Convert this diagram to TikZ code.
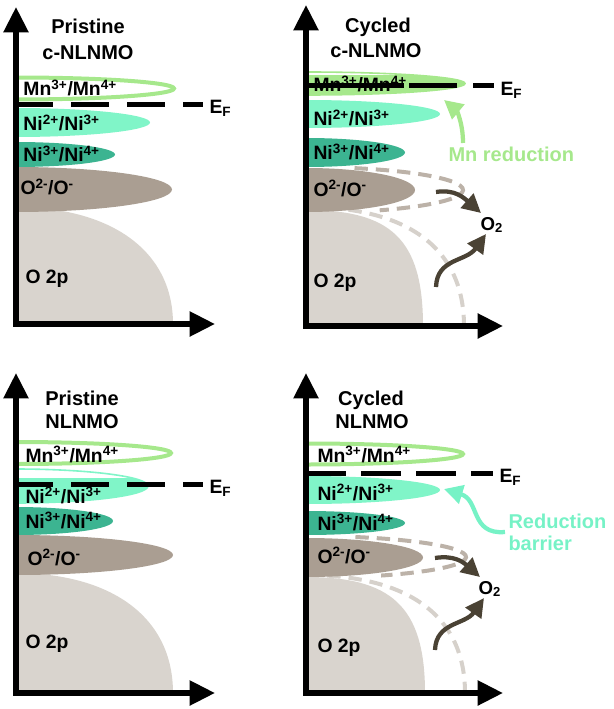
\documentclass[tikz,border=0pt]{standalone}
\usepackage{fontspec}
\setmainfont{Liberation Sans}
\usetikzlibrary{arrows.meta}

\definecolor{mngreen}{RGB}{166,232,140}
\definecolor{niaqua}{RGB}{128,245,200}
\definecolor{niteal}{RGB}{60,180,145}
\definecolor{otaupe}{RGB}{170,158,146}
\definecolor{opgrey}{RGB}{217,212,206}
\definecolor{oldtaupe}{RGB}{188,178,168}
\definecolor{oldgrey}{RGB}{214,209,203}
\definecolor{o2brown}{RGB}{74,66,52}
\definecolor{redaqua}{RGB}{118,242,198}

\tikzset{every picture/.style={line width=0.75pt}}
\tikzset{
  lbl/.style={anchor=base west, inner sep=0pt, font=\fontsize{14.5}{17}\selectfont\bfseries},
  ttl/.style={anchor=base, inner sep=0pt, font=\fontsize{15}{18}\selectfont\bfseries},
  note/.style={anchor=base west, inner sep=0pt, font=\fontsize{15}{18}\selectfont\bfseries},
  gas/.style={anchor=base west, inner sep=0pt, font=\fontsize{14}{16}\selectfont\bfseries},
  ef/.style={anchor=base west, inner sep=0pt, xshift=3pt, yshift=-7pt, text=black, font=\fontsize{14.5}{17}\selectfont\bfseries},
  axisline/.style={line width=4pt, line join=miter, {Triangle[length=19pt,width=18pt]}-{Triangle[length=19pt,width=18pt]}},
  fermi/.style={line width=3.75pt, dash pattern=on 28.5pt off 13.5pt},
  mnring/.style={draw=mngreen, line width=3pt},
  thinring/.style={line width=1.2pt},
  oldband/.style={line width=3pt, dash pattern=on 10pt off 6pt},
  curvarrow/.style={line width=3.2pt, -{Triangle[length=14pt,width=14pt]}}
}

\begin{document}
\begin{tikzpicture}[x=0.75pt,y=0.75pt,yscale=-1,xscale=1]
\useasboundingbox (0,0) rectangle (613,709);

%%%%% Pristine c-NLNMO
%Shape: O 2p band
\fill[opgrey] (15,207) .. controls (110,207) and (173,250) .. (173,324) -- (15,324) -- cycle;
%Shape: Ellipse
\fill[otaupe] (15,167) arc[start angle=-90,end angle=90,x radius=157,y radius=22.5] -- cycle;
%Shape: Ellipse
\fill[niteal] (15,142) arc[start angle=-90,end angle=90,x radius=100,y radius=12.5] -- cycle;
%Shape: Ellipse
\fill[niaqua] (15,108) arc[start angle=-90,end angle=90,x radius=135,y radius=14.5] -- cycle;
%Shape: Ellipse
\draw[mnring] (15,77.5) arc[start angle=-90,end angle=90,x radius=159,y radius=11];
%Straight Lines
\draw[fermi] (15,104.5) -- (203,104.5) node[ef] (efA) {E\textsubscript{F}};

% Text Node
\draw (88,34) node [ttl] (titleA) {Pristine};
% Text Node
\draw (88,60) node [ttl] (subA) {c-NLNMO};
% Text Node
\draw (23,96) node [lbl] (mnA) {Mn\textsuperscript{3+}/Mn\textsuperscript{4+}};
% Text Node
\draw (23,131) node [lbl] (niA) {Ni\textsuperscript{2+}/Ni\textsuperscript{3+}};
% Text Node
\draw (23,162) node [lbl] (nifA) {Ni\textsuperscript{3+}/Ni\textsuperscript{4+}};
% Text Node
\draw (20,195) node [lbl] (oA) {O\textsuperscript{2-}/O\textsuperscript{-}};
% Text Node
\draw (25,283) node [lbl] (optA) {O 2p};
%Shape: Axis 2D
\draw[axisline] (16,7) -- (16,324) -- (215,324);

%%%%% Cycled c-NLNMO
%Curve Lines
\draw[oldgrey, oldband] (306,207) .. controls (410,207) and (464,250) .. (464,326);
%Shape: O 2p band
\fill[opgrey] (306,210) .. controls (390,210) and (423,238) .. (423,326) -- (306,326) -- cycle;
%Shape: Ellipse
\fill[otaupe] (306,168) arc[start angle=-90,end angle=90,x radius=109,y radius=22] -- cycle;
%Curve Lines
\draw[oldtaupe, oldband] (306,190) ++(-72:157 and 23) arc[start angle=-72,end angle=62,x radius=157,y radius=23];
%Shape: Ellipse
\fill[niteal] (306,138) arc[start angle=-90,end angle=90,x radius=99,y radius=14.5] -- cycle;
%Shape: Ellipse
\fill[niaqua] (306,100) arc[start angle=-90,end angle=90,x radius=134,y radius=14] -- cycle;
%Shape: Ellipse
\begin{scope}
\clip (306,76) rectangle (480,100);
\fill[mngreen] (306,72) arc[start angle=-90,end angle=90,x radius=159,y radius=11.5] -- cycle;
\end{scope}
\draw[mngreen, thinring] (306,72) arc[start angle=-90,end angle=90,x radius=159,y radius=11.5];
%Straight Lines
\draw[fermi, dash pattern=on 73.5pt off 3.75pt on 36pt off 12pt on 20pt off 20pt] (306,86) -- (494,86) node[ef] (efB) {E\textsubscript{F}};

% Text Node
\draw (378,33) node [ttl] (titleB) {Cycled};
% Text Node
\draw (376,58) node [ttl] (subB) {c-NLNMO};
% Text Node
\draw (313,92) node [lbl] (mnB) {Mn\textsuperscript{3+}/Mn\textsuperscript{4+}};
% Text Node
\draw (313,126) node [lbl] (niB) {Ni\textsuperscript{2+}/Ni\textsuperscript{3+}};
% Text Node
\draw (313,160) node [lbl] (nifB) {Ni\textsuperscript{3+}/Ni\textsuperscript{4+}};
% Text Node
\draw (313,196) node [lbl] (oB) {O\textsuperscript{2-}/O\textsuperscript{-}};
% Text Node
\draw (313,287) node [lbl] (optB) {O 2p};
% Text Node
\draw (448,162) node [note, text=mngreen] (redB) {Mn reduction};
% Text Node
\draw (480,230) node [gas] (gasB) {O\textsubscript{2}};

\coordinate (mnFromB) at (463,143);
\coordinate (mnToB) at (444,100);
\coordinate (upFromB) at (436,192);
\coordinate (upToB) at (481,213);
\coordinate (loFromB) at (436,287);
\coordinate (loToB) at (486,234);
%Curve Lines
\draw[curvarrow, mngreen] (mnFromB) .. controls (463,122) and (456,110) .. (mnToB);
%Curve Lines
\draw[curvarrow, o2brown] (upFromB) .. controls (455,189) and (464,198) .. (upToB);
%Curve Lines
\draw[curvarrow, o2brown] (loFromB) .. controls (437,258) and (466,262) .. (loToB);
%Shape: Axis 2D
\draw[axisline] (306,5) -- (306,326) -- (503,326);

%%%%% Pristine NLNMO
%Shape: O 2p band
\fill[opgrey] (15,573) .. controls (110,573) and (173,616) .. (173,693) -- (15,693) -- cycle;
%Shape: Ellipse
\fill[otaupe] (15,535) arc[start angle=-90,end angle=90,x radius=158,y radius=20] -- cycle;
%Shape: Ellipse
\fill[niteal] (15,507) arc[start angle=-90,end angle=90,x radius=98,y radius=14] -- cycle;
%Shape: Ellipse
\begin{scope}
\clip (15,478) rectangle (160,510);
\fill[niaqua] (15,469) arc[start angle=-90,end angle=90,x radius=133,y radius=17] -- cycle;
\end{scope}
\draw[niaqua, thinring] (15,469) arc[start angle=-90,end angle=90,x radius=133,y radius=17];
%Shape: Ellipse
\draw[mnring] (15,442) arc[start angle=-90,end angle=90,x radius=156,y radius=11];
%Straight Lines
\draw[fermi] (15,484) -- (203,484) node[ef] (efC) {E\textsubscript{F}};

% Text Node
\draw (82,405) node [ttl] (titleC) {Pristine};
% Text Node
\draw (82,428) node [ttl] (subC) {NLNMO};
% Text Node
\draw (25,462) node [lbl] (mnC) {Mn\textsuperscript{3+}/Mn\textsuperscript{4+}};
% Text Node
\draw (25,503) node [lbl] (niC) {Ni\textsuperscript{2+}/Ni\textsuperscript{3+}};
% Text Node
\draw (25,528) node [lbl] (nifC) {Ni\textsuperscript{3+}/Ni\textsuperscript{4+}};
% Text Node
\draw (27,565) node [lbl] (oC) {O\textsuperscript{2-}/O\textsuperscript{-}};
% Text Node
\draw (25,648) node [lbl] (optC) {O 2p};
%Shape: Axis 2D
\draw[axisline] (16,373) -- (16,693) -- (215,693);

%%%%% Cycled NLNMO
%Curve Lines
\draw[oldgrey, oldband] (306,575) .. controls (410,575) and (465,617) .. (465,693);
%Shape: O 2p band
\fill[opgrey] (306,577) .. controls (390,577) and (425,605) .. (425,693) -- (306,693) -- cycle;
%Shape: Ellipse
\fill[otaupe] (306,538) arc[start angle=-90,end angle=90,x radius=117,y radius=19.5] -- cycle;
%Curve Lines
\draw[oldtaupe, oldband] (306,557) ++(-72:160 and 21) arc[start angle=-72,end angle=62,x radius=160,y radius=21];
%Shape: Ellipse
\fill[niteal] (306,511) arc[start angle=-90,end angle=90,x radius=99,y radius=12] -- cycle;
%Shape: Ellipse
\fill[niaqua] (306,476) arc[start angle=-90,end angle=90,x radius=134,y radius=14] -- cycle;
%Shape: Ellipse
\draw[mnring] (306,443.5) arc[start angle=-90,end angle=90,x radius=157,y radius=10.5];
%Straight Lines
\draw[fermi, dash pattern=on 30pt off 11.25pt] (306,473) -- (493,473) node[ef] (efD) {E\textsubscript{F}};

% Text Node
\draw (371,405) node [ttl] (titleD) {Cycled};
% Text Node
\draw (372,428) node [ttl] (subD) {NLNMO};
% Text Node
\draw (317,462) node [lbl] (mnD) {Mn\textsuperscript{3+}/Mn\textsuperscript{4+}};
% Text Node
\draw (317,500) node [lbl] (niD) {Ni\textsuperscript{2+}/Ni\textsuperscript{3+}};
% Text Node
\draw (317,530) node [lbl] (nifD) {Ni\textsuperscript{3+}/Ni\textsuperscript{4+}};
% Text Node
\draw (317,563) node [lbl] (oD) {O\textsuperscript{2-}/O\textsuperscript{-}};
% Text Node
\draw (317,652) node [lbl] (optD) {O 2p};
% Text Node
\draw (508,528) node [note, text=redaqua] (redD) {Reduction};
% Text Node
\draw (508,550) node [note, text=redaqua] (barD) {barrier};
% Text Node
\draw (478,594) node [gas] (gasD) {O\textsubscript{2}};

\coordinate (niFromD) at (505,532);
\coordinate (niToD) at (444,489);
\coordinate (upFromD) at (435,558);
\coordinate (upToD) at (480,577);
\coordinate (loFromD) at (435,650);
\coordinate (loToD) at (484,598);
%Curve Lines
\draw[curvarrow, redaqua] (niFromD) .. controls (470,535) and (480,500) .. (niToD);
%Curve Lines
\draw[curvarrow, o2brown] (upFromD) .. controls (454,555) and (463,562) .. (upToD);
%Curve Lines
\draw[curvarrow, o2brown] (loFromD) .. controls (436,622) and (465,625) .. (loToD);
%Shape: Axis 2D
\draw[axisline] (306,373) -- (306,693) -- (503,693);
\end{tikzpicture}
\end{document}
